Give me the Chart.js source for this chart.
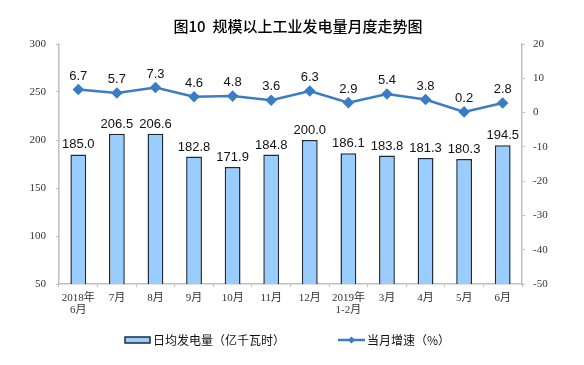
<!DOCTYPE html>
<html>
<head>
<meta charset="utf-8">
<script src="https://cdn.jsdelivr.net/npm/chart.js@4"></script>
<style>
  html, body { margin: 0; padding: 0; background: #fff; }
  #wrap { width: 584px; height: 365px; }
</style>
</head>
<body>
<div id="wrap"><canvas id="chart" width="584" height="365"></canvas></div>
<script>
// chart data
const months = [['2018年', '6月'], '7月', '8月', '9月', '10月', '11月', '12月', ['2019年', '1-2月'], '3月', '4月', '5月', '6月'];
const dailyOutput = [185.0, 206.5, 206.6, 182.8, 171.9, 184.8, 200.0, 186.1, 183.8, 181.3, 180.3, 194.5];
const growthRate = [6.7, 5.7, 7.3, 4.6, 4.8, 3.6, 6.3, 2.9, 5.4, 3.8, 0.2, 2.8];

const barFill = '#99ccff';
const barEdge = '#1f2a36';
const lineColor = '#3a7cc6';
const axisColor = '#bfbfbf';
const cjk = '"Noto Sans CJK SC", "Noto Sans", sans-serif';
const serif = '"Liberation Serif", "Noto Sans CJK SC", serif';

// value labels above bars and points
const valueLabels = {
    id: 'valueLabels',
    afterDatasetsDraw(chart) {
        const ctx = chart.ctx;
        ctx.save();
        ctx.fillStyle = '#111';
        ctx.font = '13px "Liberation Sans", Arial, sans-serif';
        ctx.textAlign = 'center';
        ctx.textBaseline = 'bottom';
        chart.data.datasets.forEach((ds, di) => {
            const meta = chart.getDatasetMeta(di);
            meta.data.forEach((el, i) => {
                const off = ds.type === 'line' ? 7 : 3;
                ctx.fillText(ds.data[i].toFixed(1), el.x, el.y - off);
            });
        });
        ctx.restore();
    }
};

// legend under the axis: bar swatch + line swatch, drawn from the datasets
const bottomLegend = {
    id: 'bottomLegend',
    afterDraw(chart) {
        const ctx = chart.ctx;
        const y = chart.chartArea.bottom + 56;
        const bars = chart.data.datasets[1];
        const line = chart.data.datasets[0];
        ctx.save();
        ctx.font = '12px ' + cjk;
        ctx.textBaseline = 'middle';
        ctx.fillStyle = '#111';

        // bar item
        let x = chart.chartArea.left + 66;
        ctx.fillStyle = bars.backgroundColor;
        ctx.fillRect(x, y - 3, 25, 6);
        ctx.strokeStyle = bars.borderColor;
        ctx.lineWidth = 1.5;
        ctx.strokeRect(x, y - 3, 25, 6);
        ctx.fillStyle = '#111';
        ctx.fillText(bars.label, x + 28, y);

        // line item
        x = chart.chartArea.left + 279;
        ctx.strokeStyle = line.borderColor;
        ctx.lineWidth = 2.5;
        ctx.beginPath(); ctx.moveTo(x, y); ctx.lineTo(x + 27, y); ctx.stroke();
        ctx.fillStyle = line.borderColor;
        const cx = x + 13.5;
        ctx.beginPath();
        ctx.moveTo(cx, y - 3.5); ctx.lineTo(cx + 3.5, y); ctx.lineTo(cx, y + 3.5); ctx.lineTo(cx - 3.5, y);
        ctx.closePath(); ctx.fill();
        ctx.fillStyle = '#111';
        ctx.fillText(line.label, x + 29, y);
        ctx.restore();
    }
};

new Chart(document.getElementById('chart'), {
    data: {
        labels: months,
        datasets: [{
            type: 'line',
            label: '当月增速（%）',
            data: growthRate,
            yAxisID: 'y1',
            borderColor: lineColor,
            backgroundColor: lineColor,
            borderWidth: 2.5,
            pointStyle: 'rectRot',
            pointRadius: 4,
            tension: 0,
            order: 0
        }, {
            type: 'bar',
            label: '日均发电量（亿千瓦时）',
            data: dailyOutput,
            yAxisID: 'y',
            backgroundColor: barFill,
            borderColor: barEdge,
            borderWidth: 1.5,
            categoryPercentage: 1,
            barPercentage: 0.41,
            order: 1
        }]
    },
    options: {
        responsive: false,
        animation: false,
        layout: { padding: { left: 24, right: 12, top: 0, bottom: 0 } },
        plugins: {
            title: {
                display: true,
                text: '图10  规模以上工业发电量月度走势图',
                color: '#000',
                font: { family: cjk, size: 15, weight: '500' },
                padding: { top: 17, bottom: 9 }
            },
            legend: { display: false },
            tooltip: { enabled: false }
        },
        scales: {
            x: {
                grid: { display: true, drawOnChartArea: false, offset: true, color: axisColor, tickLength: 3 },
                border: { color: axisColor, width: 1.5 },
                ticks: { color: '#333', font: { family: serif, size: 11, lineHeight: 1.1 }, maxRotation: 0, padding: 5 },
                afterFit: (s) => { s.height = 81; }
            },
            y: {
                position: 'left',
                min: 50, max: 300,
                ticks: { stepSize: 50, color: '#333', font: { family: serif, size: 11 }, padding: 10 },
                grid: { drawOnChartArea: false, color: axisColor, tickLength: 3 },
                border: { color: axisColor, width: 1.5 },
                afterFit: (s) => { s.width = 35; }
            },
            y1: {
                position: 'right',
                min: -50, max: 20,
                ticks: { stepSize: 10, color: '#333', font: { family: serif, size: 11 }, padding: 8 },
                grid: { drawOnChartArea: false, color: axisColor, tickLength: 3 },
                border: { color: axisColor, width: 1.5 },
                afterFit: (s) => { s.width = 50; }
            }
        }
    },
    plugins: [valueLabels, bottomLegend]
});
</script>
</body>
</html>
